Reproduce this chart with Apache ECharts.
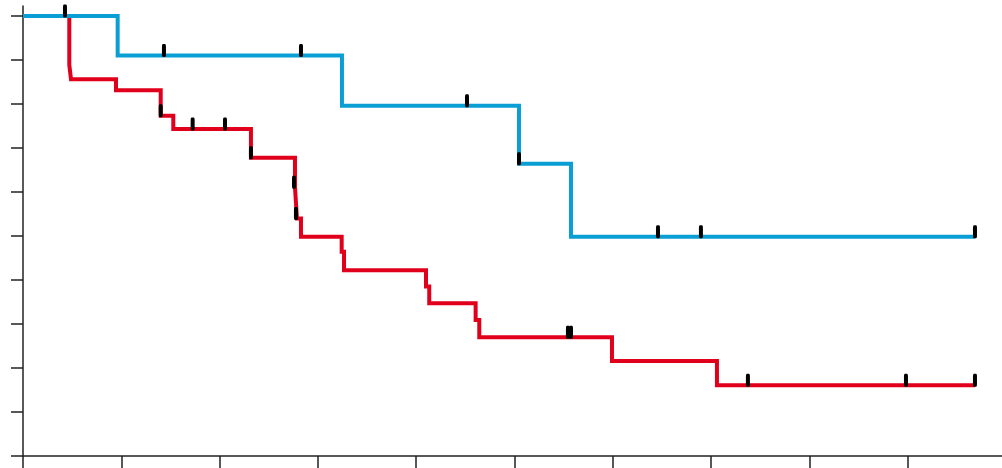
<!DOCTYPE html>
<html>
<head>
<meta charset="utf-8">
<style>
  html, body { margin: 0; padding: 0; background: #ffffff; }
  #chart { width: 1002px; height: 468px; }
</style>
<script src="https://cdn.jsdelivr.net/npm/echarts@6/dist/echarts.min.js"></script>
</head>
<body>
<div id="chart"></div>
<script>
// Kaplan-Meier survival steps: [time, survival] at each event
const groupBlueSteps = [
  [0, 1.0], [9.63, 0.910], [32.45, 0.796], [50.46, 0.664], [55.75, 0.498], [96.85, 0.498]
];
const groupRedSteps = [
  [0, 1.0], [4.71, 0.889], [4.88, 0.856], [9.46, 0.831], [14.01, 0.773], [15.29, 0.743],
  [23.19, 0.678], [27.67, 0.611], [27.87, 0.540], [28.28, 0.498], [32.42, 0.464],
  [32.66, 0.422], [41.0, 0.385], [41.33, 0.347], [46.05, 0.309], [46.42, 0.270],
  [59.92, 0.216], [70.6, 0.161], [96.85, 0.161]
];
// Censored observations: [time, survival at that time]
const groupBlueCensored = [
  [4.27, 1.0], [14.34, 0.910], [28.28, 0.910], [45.17, 0.796], [50.46, 0.664],
  [64.6, 0.498], [68.97, 0.498], [96.85, 0.498]
];
const groupRedCensored = [
  [14.01, 0.773], [17.26, 0.743], [20.55, 0.743], [23.19, 0.678], [27.57, 0.611],
  [27.77, 0.540], [55.44, 0.270], [55.75, 0.270], [73.75, 0.161], [89.83, 0.161],
  [96.85, 0.161]
];
const xTicks = [0, 10, 20, 30, 40, 50, 60, 70, 80, 90];
const yTicks = [0, 0.1, 0.2, 0.3, 0.4, 0.5, 0.6, 0.7, 0.8, 0.9, 1.0];

const axisColor = '#222222';
const blue = '#0a9fd4';
const red = '#e1001c';

const chart = echarts.init(document.getElementById('chart'), null, { renderer: 'canvas' });

function censorSeries(data, z) {
  return {
    type: 'scatter',
    data: data,
    symbol: 'roundRect',
    symbolSize: [4, 13],
    symbolOffset: [0, -5],
    itemStyle: { color: '#000000', opacity: 1 },
    z: z,
    silent: true
  };
}

chart.setOption({
  animation: false,
  grid: { left: 23, right: 0, top: 6, bottom: 12, containLabel: false },
  xAxis: {
    type: 'value',
    min: 0,
    max: 99.6,
    splitLine: { show: false },
    axisLine: { show: true, onZero: false, lineStyle: { color: axisColor, width: 1.5 } },
    axisTick: { show: true, length: 12, customValues: xTicks, lineStyle: { color: axisColor, width: 1.5 } },
    axisLabel: { show: false, customValues: xTicks }
  },
  yAxis: {
    type: 'value',
    min: 0,
    max: 1.0227,
    splitLine: { show: false },
    axisLine: { show: true, onZero: false, lineStyle: { color: axisColor, width: 1.5 } },
    axisTick: { show: true, length: 12, customValues: yTicks, lineStyle: { color: axisColor, width: 1.5 } },
    axisLabel: { show: false, customValues: yTicks }
  },
  series: [
    {
      type: 'line',
      step: 'end',
      data: groupRedSteps,
      showSymbol: false,
      lineStyle: { color: red, width: 4, join: 'miter', cap: 'butt' },
      z: 2,
      silent: true
    },
    {
      type: 'line',
      step: 'end',
      data: groupBlueSteps,
      showSymbol: false,
      lineStyle: { color: blue, width: 4, join: 'miter', cap: 'butt' },
      z: 3,
      silent: true
    },
    censorSeries(groupRedCensored, 4),
    censorSeries(groupBlueCensored, 5)
  ]
});
</script>
</body>
</html>
